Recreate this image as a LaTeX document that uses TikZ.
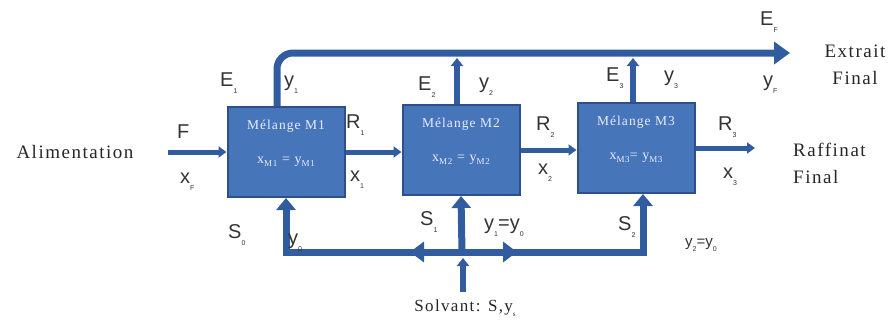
\documentclass[tikz,border=0pt]{standalone}
\usepackage{fontspec}
\setmainfont{Liberation Serif}
\setsansfont{Liberation Sans}
\newfontfamily\wideserif[LetterSpace=8]{Liberation Serif}
\usetikzlibrary{arrows.meta}
\definecolor{boxblue}{RGB}{70,118,185}
\definecolor{boxedge}{RGB}{45,80,140}
\definecolor{flowblue}{RGB}{50,92,160}
\newcommand{\sub}[1]{\raisebox{-0.7ex}{\fontsize{7}{7}\selectfont #1}}
\newcommand{\bsub}[1]{\raisebox{-0.5ex}{\fontsize{9}{9}\selectfont #1}}

\begin{document}
\begin{tikzpicture}[x=1pt, y=-1pt,
    mixer/.style={draw=boxedge, line width=2pt, fill=boxblue, minimum width=117pt, minimum height=90pt, inner sep=0pt},
    mixtext/.style={font=\wideserif\fontsize{13.5}{13.5}\selectfont, text=white!92!blue, inner sep=0pt},
    flow/.style={draw=flowblue, line width=7pt},
    lab/.style={font=\sffamily\fontsize{20}{20}\selectfont, text=black!80, inner sep=0pt, anchor=west},
    word/.style={font=\wideserif\fontsize{19}{27}\selectfont, text=black!85, inner sep=0pt}]
    \useasboundingbox (0,0) rectangle (891,324);

    % Mixers
    \foreach \n/\x/\y in {1/286/152, 2/461/150, 3/636/148} {
        \node[mixer] (M\n) at (\x,\y) {};
        \node[mixtext] (M\n t) at ([yshift=-20pt]M\n.north) {Mélange M\n};
    }
    \node[mixtext, font=\wideserif\fontsize{14}{14}\selectfont] (M1f) at ([yshift=-56pt]M1.north) {x\bsub{M1} = y\bsub{M1}};
    \node[mixtext, font=\wideserif\fontsize{14}{14}\selectfont] (M2f) at ([yshift=-56pt]M2.north) {x\bsub{M2} = y\bsub{M2}};
    \node[mixtext, font=\wideserif\fontsize{14}{14}\selectfont] (M3f) at ([yshift=-56pt]M3.north) {x\bsub{M3}= y\bsub{M3}};

    % Feed and raffinate
    \coordinate (feed) at (168,152);
    \coordinate (raf) at (755,148);
    \draw[flow, line width=5pt, -{Triangle[width=11pt,length=8pt]}] (feed) -- (M1.west);
    \draw[flow, line width=5pt, -{Triangle[width=11pt,length=8pt]}] (M1.east) -- (M1.east -| M2.west);
    \draw[flow, line width=5pt, -{Triangle[width=11pt,length=8pt]}] (M2.east) -- (M2.east -| M3.west);
    \draw[flow, line width=5pt, -{Triangle[width=11pt,length=8pt]}] (M3.east) -- (raf);

    % Extract line
    \coordinate (ext) at (790,53);
    \coordinate (topline) at (0,58);
    \draw[flow, rounded corners=16pt, -{Triangle[width=22pt,length=16pt]}] ([xshift=-9pt]M1.north) |- (ext);
    \draw[flow, line width=6pt, -{Triangle[width=12pt,length=8pt]}] ([xshift=-4pt]M2.north) -- ([xshift=-4pt]M2.north |- topline);
    \draw[flow, line width=6pt, -{Triangle[width=12pt,length=8pt]}] ([xshift=-3pt]M3.north) -- ([xshift=-3pt]M3.north |- topline);

    % Solvent distribution
    \coordinate (J) at (462,252);
    \coordinate (JL) at (410,252);
    \coordinate (JR) at (517,252);
    \coordinate (solv) at (463,292);
    \coordinate (solvtop) at (463,258);
    \draw[flow, -{Triangle[width=19pt,length=12pt]}] (J) -| (M1.south);
    \draw[flow, -{Triangle[width=19pt,length=12pt]}] (J) -- (M2.south);
    \draw[flow, -{Triangle[width=19pt,length=12pt]}] (J) -| ([xshift=7pt]M3.south);
    \draw[flow, -{Triangle[width=20pt,length=14pt]}] (J) -- (JL);
    \draw[flow, -{Triangle[width=20pt,length=14pt]}] (J) -- (JR);
    \draw[flow, line width=6pt, -{Triangle[width=12pt,length=8pt]}] (solv) -- (solvtop);

    % Stream labels
    \foreach \x/\y/\txt in {177/132/F, 180/182/x\sub{F}, 220/83/E\sub{1}, 284/85/y\sub{1},
        346/125/R\sub{1}, 350/180/x\sub{1}, 418/87/E\sub{2}, 479/87/y\sub{2},
        536/127/R\sub{2}, 538/173/x\sub{2}, 606/78/E\sub{3}, 664/80/y\sub{3},
        718/127/R\sub{3}, 723/177/x\sub{3}, 760/22/E\sub{F}, 763/85/y\sub{F},
        228/235/S\sub{0}, 288/243/y\sub{0}, 420/222/S\sub{1}, 484/228/y\sub{1}=y\sub{0},
        618/227/S\sub{2}} {
        \node[lab] (L\x) at (\x,\y) {\txt};
    }
    \node[lab, font=\sffamily\fontsize{15}{15}\selectfont] (L685) at (685,245) {y\sub{2}=y\sub{0}};

    % Names
    \node[word] (alim) at (75,152) {Alimentation};
    \node[word, align=center] (extr) at (855,65) {Extrait\\Final};
    \node[word, align=left, anchor=west] (raff) at (793,163) {Raffinat\\Final};
    \node[word, font=\wideserif\fontsize{17}{17}\selectfont] (solvant) at (465,308) {Solvant: S,y\sub{s}};

\end{tikzpicture}
\end{document}
